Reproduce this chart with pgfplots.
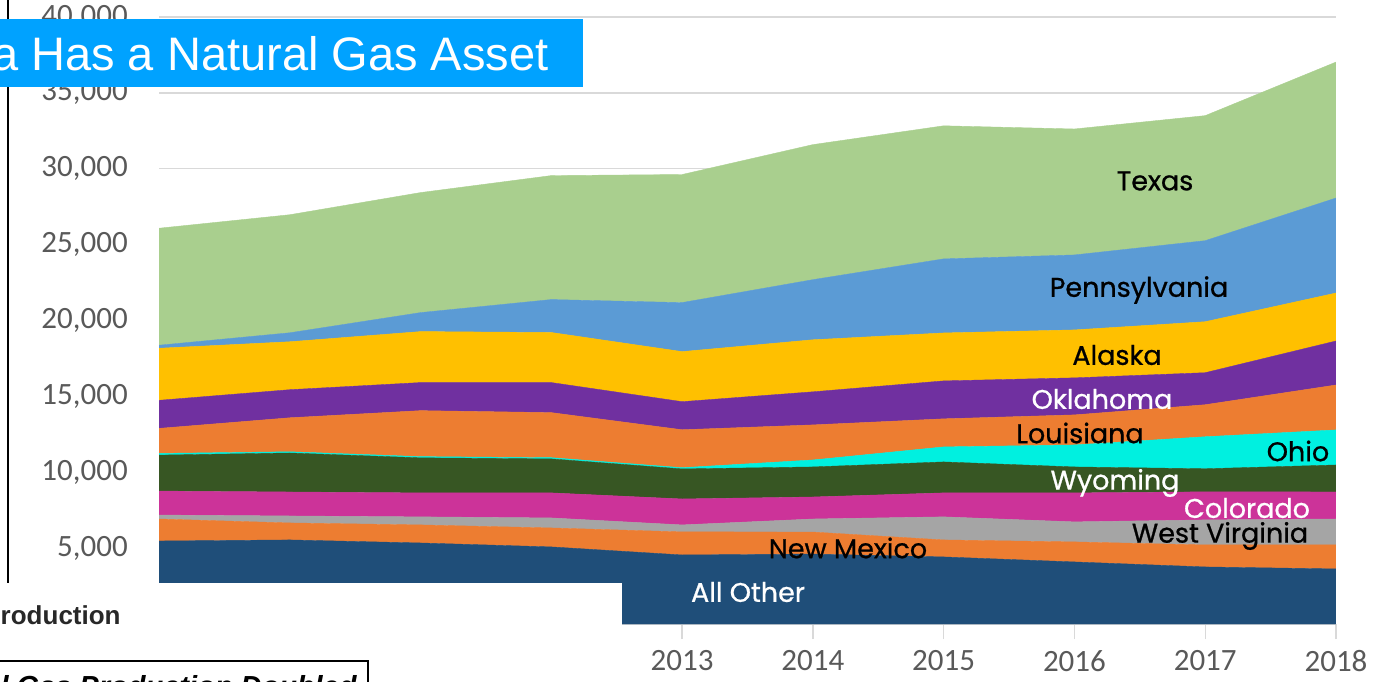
\documentclass[border=0pt]{standalone}
\usepackage{fontspec}
\setmainfont{Carlito}
\newfontfamily\pop[BoldFont={Poppins}, BoldFeatures={FakeBold=0.8}]{Poppins}
\newfontfamily\helv{Liberation Sans}
\usepackage{pgfplots}
\pgfplotsset{compat=1.18}
\definecolor{cTX}{RGB}{169,207,142}
\definecolor{cPA}{RGB}{91,155,213}
\definecolor{cAK}{RGB}{255,192,0}
\definecolor{cOK}{RGB}{112,48,160}
\definecolor{cLA}{RGB}{237,125,49}
\definecolor{cOH}{RGB}{0,240,224}
\definecolor{cWY}{RGB}{55,86,35}
\definecolor{cCO}{RGB}{204,51,153}
\definecolor{cWV}{RGB}{165,165,165}
\definecolor{cNM}{RGB}{237,125,49}
\definecolor{cAO}{RGB}{31,78,121}
\definecolor{gridgray}{RGB}{217,217,217}
\definecolor{tickgray}{RGB}{89,89,89}
\definecolor{titleblue}{RGB}{0,162,255}
\definecolor{darktext}{RGB}{40,40,40}
\begin{document}
\begin{tikzpicture}
\useasboundingbox (0,0) rectangle (691.5pt,340.5pt);
\begin{axis}[
  at={(79.5pt,28.5pt)}, anchor=south west,
  scale only axis, width=588.5pt, height=303.5pt,
  xmin=2009, xmax=2018, ymin=0, ymax=40000,
  stack plots=y, area style, axis on top=false,
  xtick={2009,2010,2011,2012,2013,2014,2015,2016,2017,2018},
  xticklabels={2009,2010,2011,2012,2013,2014,2015,2016,2017,2018},
  ytick={0,5000,10000,15000,20000,25000,30000,35000,40000},
  yticklabels={0,{5,000},{10,000},{15,000},{20,000},{25,000},{30,000},{35,000},{40,000}},
  ymajorgrids, grid style={color=gridgray, line width=0.7pt},
  axis x line*=bottom, axis y line*=left,
  y axis line style={draw=none},
  x axis line style={color=gridgray, line width=0.6pt, -},
  tick align=outside, major tick length=7.5pt,
  xtick style={color=gridgray, line width=0.7pt},
  ytick style={draw=none},
  ticklabel style={font=\fontsize{15.5}{16}\selectfont, text=tickgray},
  yticklabel style={anchor=east, inner sep=0pt, xshift=-8pt},
  xticklabel style={anchor=north, inner sep=0pt, yshift=-5.5pt},
]
\addplot[fill=cAO, draw=cAO, line width=0.2pt] coordinates {(2009,5470) (2010,5540) (2011,5340) (2012,5080) (2013,4550) (2014,4610) (2015,4420) (2016,4090) (2017,3760) (2018,3630)} \closedcycle;
\addplot[fill=cNM, draw=cNM, line width=0.2pt] coordinates {(2009,1450) (2010,1120) (2011,1190) (2012,1250) (2013,1520) (2014,1450) (2015,1120) (2016,1320) (2017,1450) (2018,1580)} \closedcycle;
\addplot[fill=cWV, draw=cWV, line width=0.2pt] coordinates {(2009,260) (2010,460) (2011,530) (2012,660) (2013,460) (2014,860) (2015,1520) (2016,1320) (2017,1650) (2018,1710)} \closedcycle;
\addplot[fill=cCO, draw=cCO, line width=0.2pt] coordinates {(2009,1580) (2010,1580) (2011,1580) (2012,1650) (2013,1710) (2014,1450) (2015,1580) (2016,1910) (2017,1850) (2018,1780)} \closedcycle;
\addplot[fill=cWY, draw=cWY, line width=0.2pt] coordinates {(2009,2370) (2010,2570) (2011,2310) (2012,2240) (2013,1980) (2014,1980) (2015,2040) (2016,1710) (2017,1520) (2018,1780)} \closedcycle;
\addplot[fill=cOH, draw=cOH, line width=0.2pt] coordinates {(2009,110) (2010,80) (2011,80) (2012,80) (2013,80) (2014,460) (2015,990) (2016,1450) (2017,2110) (2018,2310)} \closedcycle;
\addplot[fill=cLA, draw=cLA, line width=0.2pt] coordinates {(2009,1650) (2010,2240) (2011,3030) (2012,2970) (2013,2500) (2014,2310) (2015,1850) (2016,1980) (2017,2110) (2018,2960)} \closedcycle;
\addplot[fill=cOK, draw=cOK, line width=0.2pt] coordinates {(2009,1850) (2010,1850) (2011,1850) (2012,1980) (2013,1850) (2014,2180) (2015,2500) (2016,2440) (2017,2110) (2018,2900)} \closedcycle;
\addplot[fill=cAK, draw=cAK, line width=0.2pt] coordinates {(2009,3430) (2010,3160) (2011,3360) (2012,3300) (2013,3300) (2014,3430) (2015,3160) (2016,3160) (2017,3360) (2018,3160)} \closedcycle;
\addplot[fill=cPA, draw=cPA, line width=0.2pt] coordinates {(2009,200) (2010,590) (2011,1250) (2012,2170) (2013,3230) (2014,3960) (2015,4880) (2016,4940) (2017,5340) (2018,6260)} \closedcycle;
\addplot[fill=cTX, draw=cTX, line width=0.2pt] coordinates {(2009,7710) (2010,7780) (2011,7910) (2012,8170) (2013,8440) (2014,8900) (2015,8770) (2016,8300) (2017,8240) (2018,8960)} \closedcycle;
\end{axis}
\begin{scope}[x=0.5pt,y=-0.5pt,shift={(0pt,340.5pt)}]
\tikzset{lab/.style={inner sep=0pt, font=\pop\bfseries\fontsize{13.5}{14}\selectfont}}
\node[lab, text=black] at (1155,181) {Texas};
\node[lab, text=black] at (1139,290) {Pennsylvania};
\node[lab, text=black] at (1117,355) {Alaska};
\node[lab, text=white] at (1102,399) {Oklahoma};
\node[lab, text=black] at (1080,433) {Louisiana};
\node[lab, text=black] at (1298,451) {Ohio};
\node[lab, text=white] at (1115,483) {Wyoming};
\node[lab, text=white] at (1247,508) {Colorado};
\node[lab, text=black] at (1220,536) {West Virginia};
\node[lab, text=black] at (848,548) {New Mexico};
\node[lab, text=white] at (748,592) {All Other};
\fill[white] (-4,583) rectangle (622,690);
\draw[black, line width=1pt] (8,-4) -- (8,583);
\fill[titleblue] (-4,19) rectangle (583,87);
\node[anchor=base east, text=white, font=\helv\fontsize{23.5}{24}\selectfont, inner sep=0pt] at (549,71) {a Has a Natural Gas Asset};
\node[anchor=base east, font=\helv\bfseries\fontsize{13}{13}\selectfont, text=darktext, inner sep=0pt] at (121,625) {roduction};
\draw[black, line width=1.2pt] (-6,700) -- (-6,661) -- (368,661) -- (368,700);
\node[anchor=base east, font=\helv\bfseries\itshape\fontsize{14.5}{15}\selectfont, inner sep=0pt] at (357,696) {l Gas Production Doubled};
\end{scope}
\end{tikzpicture}
\end{document}
